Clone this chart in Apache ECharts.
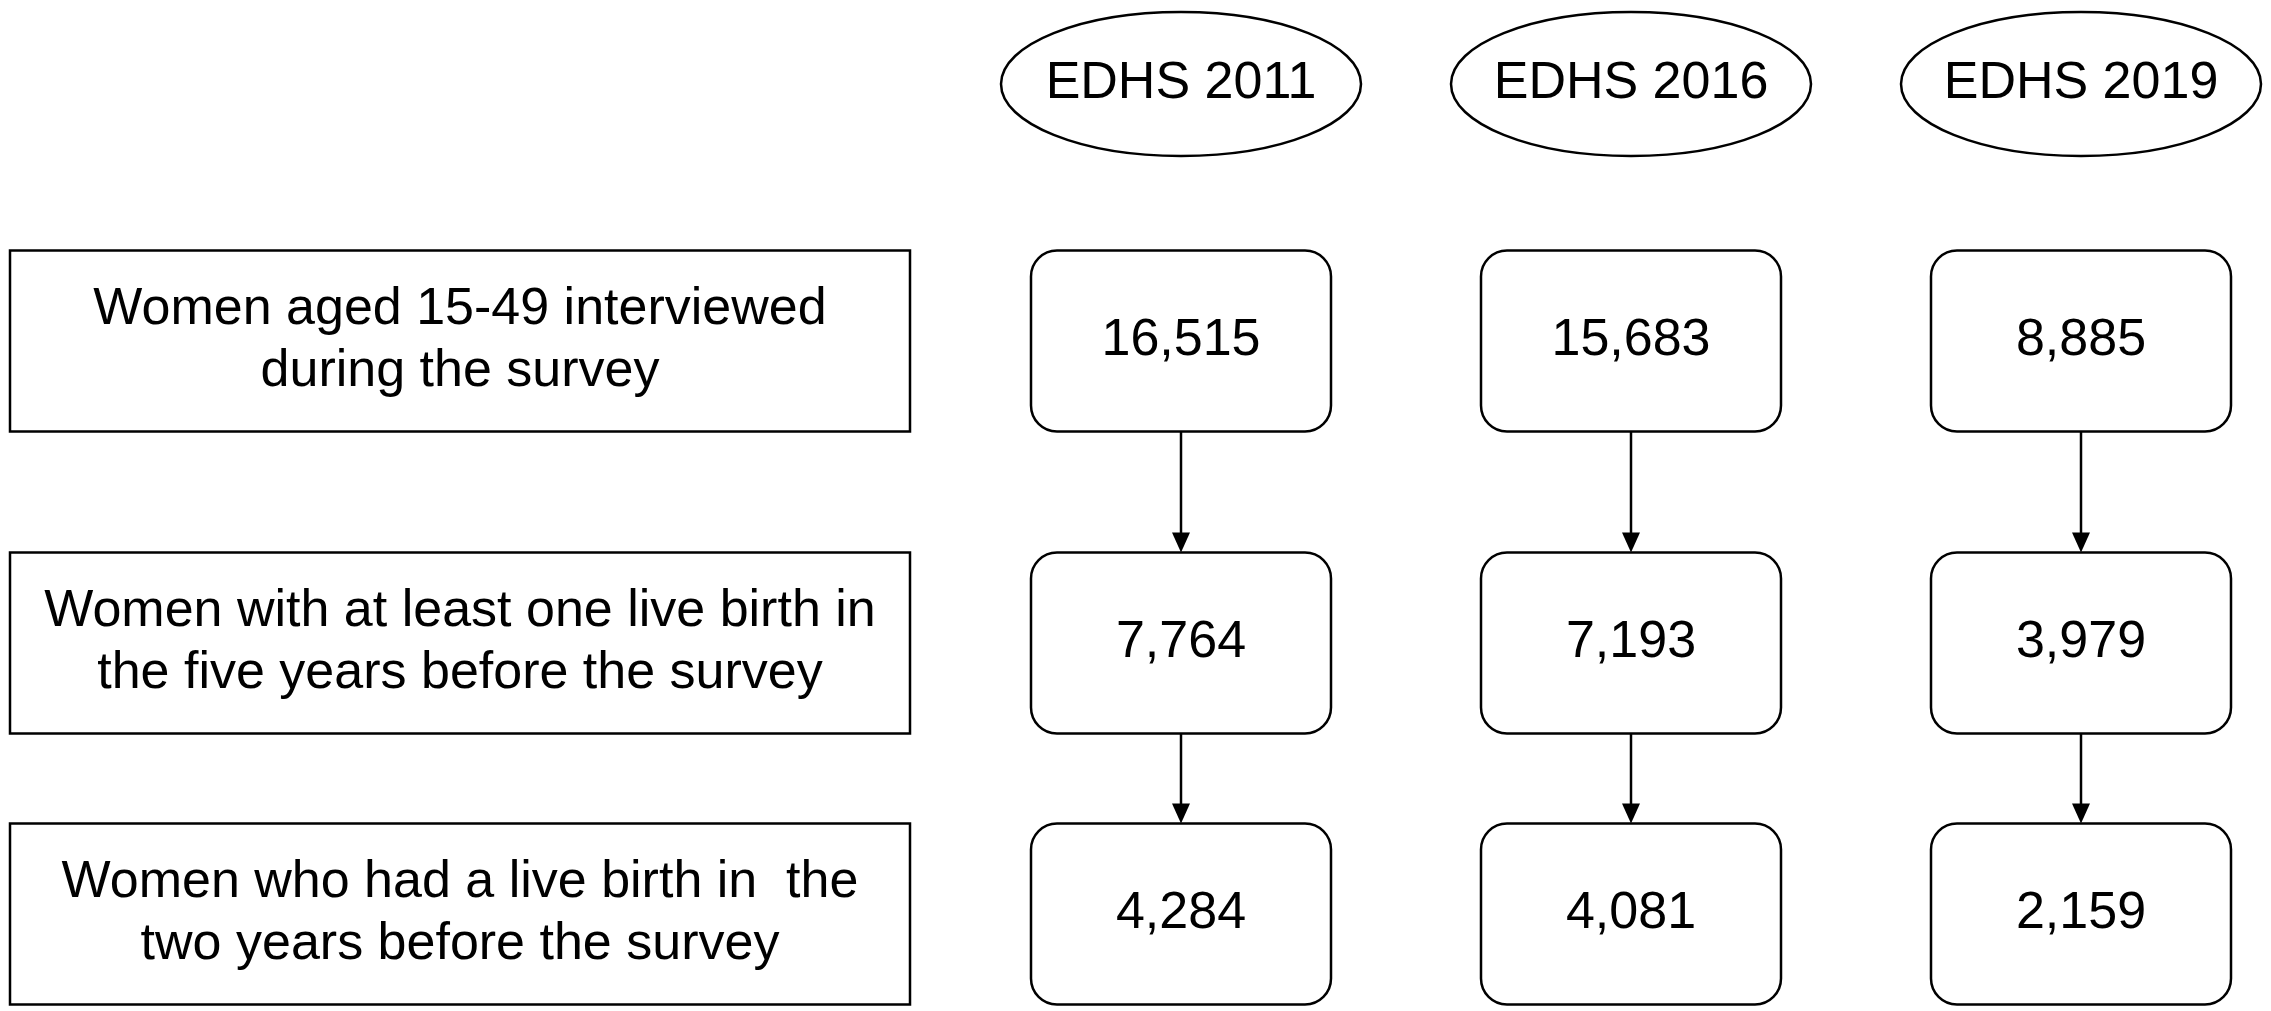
<!DOCTYPE html>
<html><head><meta charset="utf-8">
<script src="https://cdn.jsdelivr.net/npm/echarts@6/dist/echarts.min.js"></script>
<style>html,body{margin:0;padding:0;background:#fff}#c{width:2271px;height:1011px}</style>
</head><body><div id="c"></div>
<script>
const surveys = ['EDHS 2011', 'EDHS 2016', 'EDHS 2019'];
const stepLabels = [
  'Women aged 15-49 interviewed\nduring the survey',
  'Women with at least one live birth in\nthe five years before the survey',
  'Women who had a live birth in  the\ntwo years before the survey'
];
const interviewed = ['16,515', '15,683', '8,885'];
const birth5yr = ['7,764', '7,193', '3,979'];
const birth2yr = ['4,284', '4,081', '2,159'];

// layout (pixel rows on a hidden value axis)
const rowY = [341, 643, 914];
const headerY = 84;
const FONT = 'Liberation Sans, Arial, sans-serif';
const FS = 52;

const valueRows = [interviewed, birth5yr, birth2yr];
const data = surveys.map((s, i) => [i, s, valueRows[0][i], valueRows[1][i], valueRows[2][i]]);

function txt(x, y, t) {
  return {type:'text', style:{x, y, text:t, fill:'#000', font: FS + 'px ' + FONT, align:'center', verticalAlign:'middle', lineHeight:62}};
}
function arrow(x, y1, y2) {
  return [
    {type:'line', shape:{x1:x, y1:y1, x2:x, y2:y2-14}, style:{stroke:'#000', lineWidth:2.5}},
    {type:'polygon', shape:{points:[[x-9,y2-20],[x+9,y2-20],[x,y2]]}, style:{fill:'#000'}}
  ];
}

const option = {
  animation:false,
  grid:{left:1181, right:190, top:0, bottom:0},
  xAxis:{type:'category', data:surveys, boundaryGap:false, show:false},
  yAxis:{type:'value', min:0, max:1011, inverse:true, show:false},
  series:[{
    type:'custom',
    data:data,
    renderItem:function(params, api){
      const i = api.value(0);
      const x = api.coord([i, 0])[0];
      const yH = api.coord([i, headerY])[1];
      const bw = 300, bh = 181;
      const ch = [
        {type:'ellipse', shape:{cx:x, cy:yH, rx:180, ry:72}, style:{fill:'#fff', stroke:'#000', lineWidth:2.5}},
        txt(x, yH, surveys[i])
      ];
      for (let r = 0; r < 3; r++) {
        const y = api.coord([i, rowY[r]])[1];
        ch.push({type:'rect', shape:{x:x-bw/2, y:y-bh/2, width:bw, height:bh, r:26}, style:{fill:'#fff', stroke:'#000', lineWidth:2.5}});
        ch.push(txt(x, y, valueRows[r][i]));
        if (r < 2) {
          const yn = api.coord([i, rowY[r+1]])[1];
          ch.push(...arrow(x, y+bh/2, yn-bh/2));
        }
      }
      if (i === 0) {
        for (let r = 0; r < 3; r++) {
          const y = api.coord([i, rowY[r]])[1];
          ch.push({type:'rect', shape:{x:10, y:y-bh/2, width:900, height:bh}, style:{fill:'#fff', stroke:'#000', lineWidth:2.5}});
          ch.push(txt(460, y, stepLabels[r]));
        }
      }
      return {type:'group', children:ch};
    }
  }]
};
echarts.init(document.getElementById('c')).setOption(option);
</script></body></html>
